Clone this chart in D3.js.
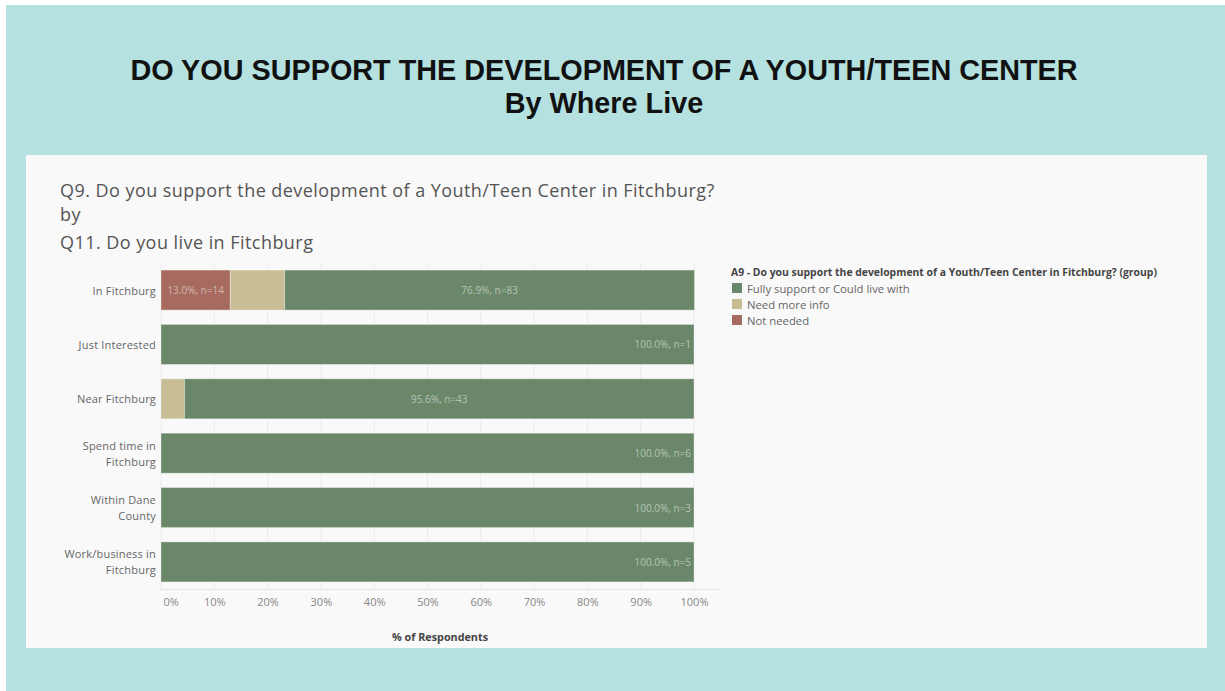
<!DOCTYPE html>
<html>
<head>
<meta charset="utf-8">
<script src="https://cdn.jsdelivr.net/npm/d3@7/dist/d3.min.js"></script>
<style>
  html, body { margin: 0; padding: 0; background: #ffffff; }
  svg { display: block; }
</style>
</head>
<body>
<svg id="chart" width="1225" height="691"></svg>
<script>
// Survey responses: Q9 support for a Youth/Teen Center, split by Q11 residence
const categories = [
  "In Fitchburg",
  "Just Interested",
  "Near Fitchburg",
  "Spend time in Fitchburg",
  "Within Dane County",
  "Work/business in Fitchburg"
];
const categoryLines = [
  ["In Fitchburg"],
  ["Just Interested"],
  ["Near Fitchburg"],
  ["Spend time in", "Fitchburg"],
  ["Within Dane", "County"],
  ["Work/business in", "Fitchburg"]
];
const groups = ["Fully support or Could live with", "Need more info", "Not needed"];

// percent of respondents in each row
const notNeeded    = [13.0, 0, 0, 0, 0, 0];
const needMoreInfo = [10.2, 0, 4.4, 0, 0, 0];
const fullySupport = [76.9, 100.0, 95.6, 100.0, 100.0, 100.0];

// respondent counts
const notNeededN    = [14, 0, 0, 0, 0, 0];
const needMoreInfoN = [11, 0, 2, 0, 0, 0];
const fullySupportN = [83, 1, 43, 6, 3, 5];

const xTicks = [0, 10, 20, 30, 40, 50, 60, 70, 80, 90, 100];

const colors = {
  "Fully support or Could live with": "#6a876a",
  "Need more info": "#c8bd94",
  "Not needed": "#a66a5e"
};

const svg = d3.select("#chart");
const font = "'Open Sans', 'Noto Sans', sans-serif";

// backdrop and card
svg.append("rect").attr("x", 6).attr("y", 5).attr("width", 1219).attr("height", 686).attr("fill", "#b5e1e0");
svg.append("rect").attr("x", 26).attr("y", 155).attr("width", 1181).attr("height", 493).attr("fill", "#f9f9f9");

// headline
svg.append("text").attr("x", 604).attr("y", 80).attr("text-anchor", "middle")
  .attr("font-family", "'Liberation Sans', Arial, sans-serif").attr("font-weight", "bold")
  .attr("font-size", 28.8).attr("fill", "#111")
  .text("DO YOU SUPPORT THE DEVELOPMENT OF A YOUTH/TEEN CENTER");
svg.append("text").attr("x", 604).attr("y", 113).attr("text-anchor", "middle")
  .attr("font-family", "'Liberation Sans', Arial, sans-serif").attr("font-weight", "bold")
  .attr("font-size", 28.8).attr("fill", "#111")
  .text("By Where Live");

// worksheet title
const sub = svg.append("g").attr("font-family", font).attr("font-size", 18)
  .attr("letter-spacing", 0.45).attr("fill", "#555");
sub.append("text").attr("x", 60).attr("y", 197).text("Q9. Do you support the development of a Youth/Teen Center in Fitchburg?");
sub.append("text").attr("x", 60).attr("y", 221).text("by");
sub.append("text").attr("x", 60).attr("y", 249).text("Q11. Do you live in Fitchburg");

// scales
const x = d3.scaleLinear().domain([0, 100]).range([161, 694]);
const y = d3.scaleBand().domain(categories).range([263, 589]).paddingInner(0.264).paddingOuter(0.13);

// gridlines
svg.append("g").selectAll("line").data(xTicks).join("line")
  .attr("x1", d => x(d)).attr("x2", d => x(d))
  .attr("y1", 263).attr("y2", 590)
  .attr("stroke", "#ebebeb").attr("stroke-width", 1);
svg.append("line").attr("x1", 161).attr("x2", 721).attr("y1", 589.5).attr("y2", 589.5)
  .attr("stroke", "#e6e6e6");

// stacked segments, left to right: Not needed, Need more info, Fully support
const rows = categories.map((c, i) => ({
  category: c,
  "Not needed": notNeeded[i],
  "Need more info": needMoreInfo[i],
  "Fully support or Could live with": fullySupport[i]
}));
const stackOrder = ["Not needed", "Need more info", "Fully support or Could live with"];
const counts = {
  "Not needed": notNeededN,
  "Need more info": needMoreInfoN,
  "Fully support or Could live with": fullySupportN
};
const series = d3.stack().keys(stackOrder)(rows);

const segs = [];
series.forEach(s => {
  s.forEach((d, i) => {
    if (d[1] - d[0] > 0) {
      segs.push({ key: s.key, i, x0: d[0], x1: d[1], value: d.data[s.key], n: counts[s.key][i] });
    }
  });
});

svg.append("g").selectAll("rect").data(segs).join("rect")
  .attr("x", d => x(d.x0)).attr("width", d => x(d.x1) - x(d.x0))
  .attr("y", d => y(categories[d.i])).attr("height", y.bandwidth())
  .attr("fill", d => colors[d.key])
  .attr("stroke", "rgba(255,255,255,0.35)").attr("stroke-width", 1);

// segment labels
const labelG = svg.append("g").attr("font-family", font).attr("font-size", 10)
  .attr("fill", "rgba(255,255,255,0.5)");
segs.forEach(d => {
  const txt = d.value.toFixed(1) + "%, n=" + d.n;
  const w = x(d.x1) - x(d.x0);
  const full = d.x0 === 0 && d.x1 >= 100;
  const t = labelG.append("text")
    .attr("y", y(categories[d.i]) + y.bandwidth() / 2)
    .attr("dominant-baseline", "central")
    .text(txt);
  if (full) {
    t.attr("x", x(d.x1) - 3).attr("text-anchor", "end");
  } else {
    t.attr("x", (x(d.x0) + x(d.x1)) / 2).attr("text-anchor", "middle");
  }
  if (t.node().getComputedTextLength() + 8 > w) t.remove();
});

// row labels
const rowG = svg.append("g").attr("font-family", font).attr("font-size", 11)
  .attr("letter-spacing", 0.2).attr("fill", "#666").attr("text-anchor", "end");
categories.forEach((c, i) => {
  const lines = categoryLines[i];
  const cy = y(c) + y.bandwidth() / 2;
  lines.forEach((ln, k) => {
    rowG.append("text").attr("x", 156)
      .attr("y", cy + (k - (lines.length - 1) / 2) * 16)
      .attr("dominant-baseline", "central")
      .text(ln);
  });
});

// x axis
const axis = svg.append("g").attr("transform", "translate(0,590)")
  .call(d3.axisBottom(x).tickValues(xTicks).tickFormat(d => d + "%").tickSize(0).tickPadding(8));
axis.select(".domain").remove();
axis.selectAll("text").attr("font-family", font).attr("font-size", 11).attr("fill", "#888");
axis.selectAll(".tick").filter(d => d === 0).select("text").attr("text-anchor", "start").attr("dx", 2);

svg.append("text").attr("x", 440).attr("y", 641).attr("text-anchor", "middle")
  .attr("font-family", font).attr("font-weight", "bold").attr("font-size", 10.8).attr("fill", "#444")
  .text("% of Respondents");

// legend
const leg = svg.append("g").attr("font-family", font);
leg.append("text").attr("x", 731).attr("y", 276).attr("font-size", 10.4).attr("font-weight", "bold").attr("fill", "#444")
  .text("A9 - Do you support the development of a Youth/Teen Center in Fitchburg? (group)");
groups.forEach((g, k) => {
  const gy = 283 + k * 16;
  leg.append("rect").attr("x", 732).attr("y", gy).attr("width", 10).attr("height", 10).attr("fill", colors[g]);
  leg.append("text").attr("x", 747).attr("y", gy + 5).attr("dominant-baseline", "central")
    .attr("font-size", 11.3).attr("fill", "#666").text(g);
});
</script>
</body>
</html>
